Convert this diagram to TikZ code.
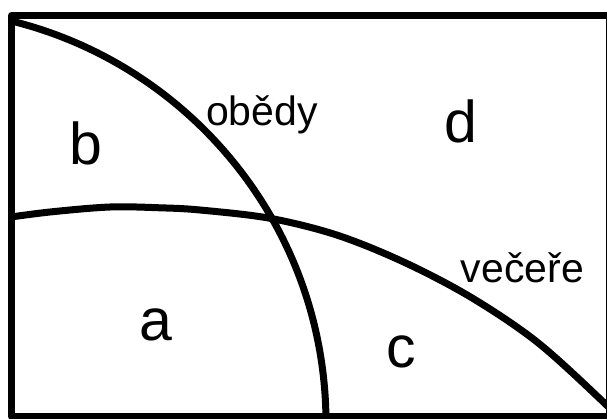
\documentclass[tikz,border=0pt]{standalone}
\usepackage{fontspec}
\setmainfont{Liberation Sans}
\begin{document}
\begin{tikzpicture}[x=1pt,y=-1pt,
  boundary/.style={line width=7pt,line join=round},
  setline/.style={line width=7pt},
  biglabel/.style={inner sep=0pt,anchor=base,font=\fontsize{59}{59}\selectfont},
  setlabel/.style={inner sep=0pt,anchor=base,font=\fontsize{41}{41}\selectfont}]
\useasboundingbox (0,0) rectangle (607,419);
\fill[white] (0,0) rectangle (607,419);
\begin{scope}
  \clip (11.5,15.5) rectangle (609,416.5);
  % obedy
  \draw[setline] (-88,423) circle[radius=414];
  % vecere
  \draw[setline] plot[smooth,tension=0.55] coordinates {(0,218.5) (50,212) (110,207) (160,207.8) (200,210) (270,218.3) (336.7,235) (403,261.7) (470,296.7) (536.7,341.7) (603,401.7) (630,430)};
\end{scope}
\begin{scope}
  \clip (0,0) rectangle (607,419);
  \draw[boundary] (11.5,15.5) rectangle (609,416.5);
\end{scope}
\node[biglabel] (b) at (86,165) {b};
\node[biglabel] (a) at (156,340) {a};
\node[biglabel] (d) at (461,143) {d};
\node[biglabel] (c) at (401.5,367) {c};
\node[setlabel] (obedy) at (262,125.5) {obědy};
\node[setlabel] (vecere) at (522.5,282.3) {večeře};
\end{tikzpicture}
\end{document}
